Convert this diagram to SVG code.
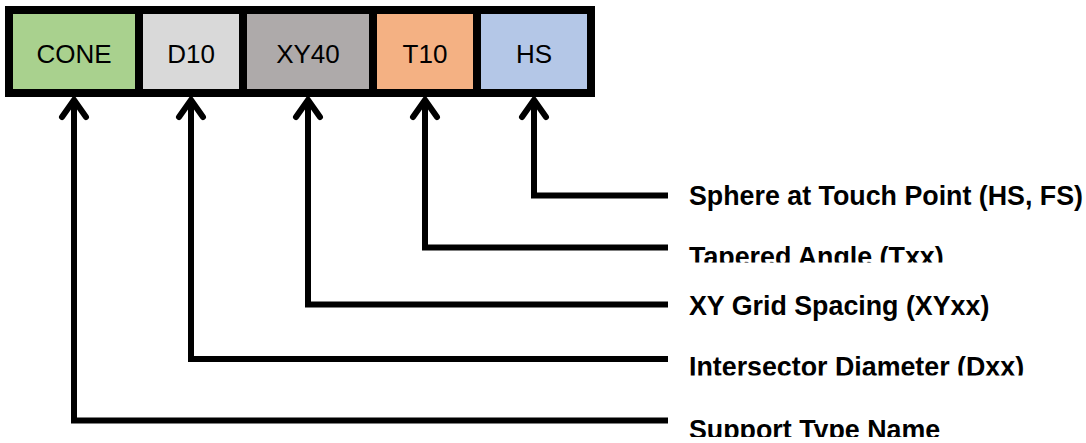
<svg xmlns="http://www.w3.org/2000/svg" width="1086" height="443" viewBox="0 0 1086 443">
  <style>
    .box { stroke: #000; stroke-width: 8; }
    .btxt { font-family: "Liberation Sans", Arial, sans-serif; font-size: 26px; fill: #000; text-anchor: middle; }
    .lbl { font-family: "Liberation Sans", Arial, sans-serif; font-size: 26.8px; font-weight: bold; fill: #000; }
    .conn { fill: none; stroke: #000; stroke-width: 6; stroke-linejoin: miter; }
    .head { fill: none; stroke: #000; stroke-width: 6; stroke-linejoin: miter; stroke-linecap: round; }
  </style>
  <defs>
    <clipPath id="clipT"><rect x="680" y="220" width="406" height="42.5"/></clipPath>
    <clipPath id="clipI"><rect x="680" y="330" width="406" height="45.5"/></clipPath>
    <clipPath id="clipS"><rect x="680" y="395" width="406" height="42"/></clipPath>
  </defs>
  <rect width="1086" height="443" fill="#fff"/>

  <g id="node-cone">
    <rect class="box" x="9" y="10" width="130" height="83" fill="#A9D18E"/>
    <text class="btxt" x="74" y="63">CONE</text>
  </g>
  <g id="node-d10">
    <rect class="box" x="139" y="10" width="104" height="83" fill="#D9D9D9"/>
    <text class="btxt" x="191" y="63">D10</text>
  </g>
  <g id="node-xy40">
    <rect class="box" x="243" y="10" width="130" height="83" fill="#AEAAAA"/>
    <text class="btxt" x="308" y="63">XY40</text>
  </g>
  <g id="node-t10">
    <rect class="box" x="373" y="10" width="104" height="83" fill="#F4B183"/>
    <text class="btxt" x="425" y="63">T10</text>
  </g>
  <g id="node-hs">
    <rect class="box" x="477" y="10" width="114" height="83" fill="#B4C7E7"/>
    <text class="btxt" x="534" y="63">HS</text>
  </g>

  <g id="connectors">
    <path class="conn" d="M74,100 V420.5 H668"/>
    <polyline class="head" points="62,117 74,100 86,117"/>
    <path class="conn" d="M191,100 V359 H668"/>
    <polyline class="head" points="179,117 191,100 203,117"/>
    <path class="conn" d="M308,100 V304.5 H668"/>
    <polyline class="head" points="296,117 308,100 320,117"/>
    <path class="conn" d="M425,100 V247.5 H668"/>
    <polyline class="head" points="413,117 425,100 437,117"/>
    <path class="conn" d="M534,100 V195.5 H668"/>
    <polyline class="head" points="522,117 534,100 546,117"/>
  </g>

  <g id="labels">
    <text class="lbl" x="689" y="205">Sphere at Touch Point (HS, FS)</text>
    <text class="lbl" x="689" y="266" clip-path="url(#clipT)">Tapered Angle (Txx)</text>
    <text class="lbl" x="689" y="315">XY Grid Spacing (XYxx)</text>
    <text class="lbl" x="689" y="376" clip-path="url(#clipI)">Intersector Diameter (Dxx)</text>
    <text class="lbl" x="689" y="439" clip-path="url(#clipS)">Support Type Name</text>
  </g>
</svg>
